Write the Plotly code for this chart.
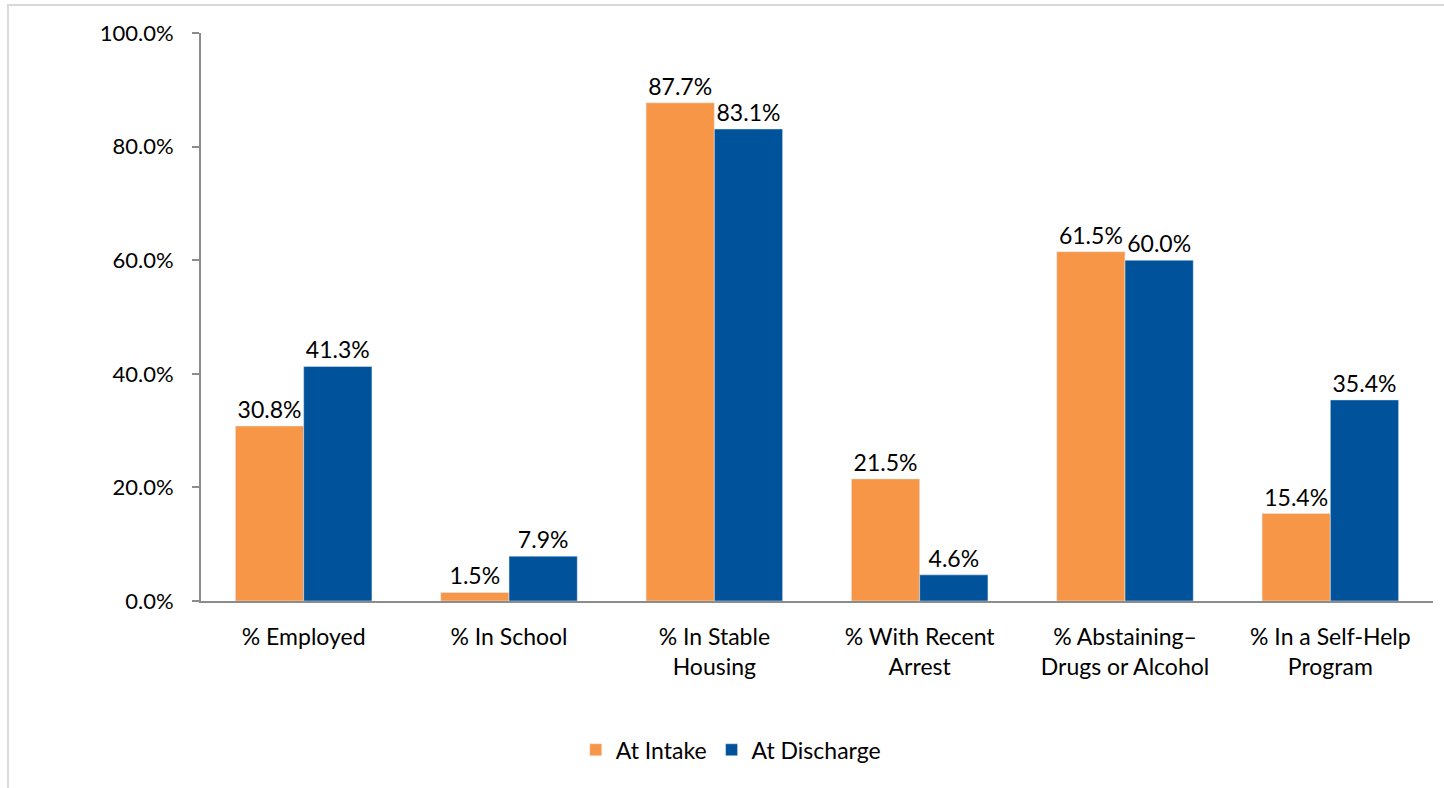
import plotly.graph_objects as go

categories = ["% Employed", "% In School", "% In Stable<br>Housing", "% With Recent<br>Arrest",
              "% Abstaining–<br>Drugs or Alcohol", "% In a Self-Help<br>Program"]
at_intake = [30.8, 1.5, 87.7, 21.5, 61.5, 15.4]
at_discharge = [41.3, 7.9, 83.1, 4.6, 60.0, 35.4]
y_ticks = [0, 20, 40, 60, 80, 100]
y_tick_labels = ["0.0%", "20.0%", "40.0%", "60.0%", "80.0%", "100.0%"]

FONT = "Lato"
FS = 23
fig = go.Figure()
fig.add_trace(go.Bar(
    name="At Intake", x=categories, y=at_intake, marker_color="#F79646",
    text=[f"{v:.1f}%" for v in at_intake], textposition="outside",
    textfont=dict(size=FS, color="#000000", family=FONT), cliponaxis=False,
))
fig.add_trace(go.Bar(
    name="At Discharge", x=categories, y=at_discharge, marker_color="#00529B",
    text=[f"{v:.1f}%" for v in at_discharge], textposition="outside",
    textfont=dict(size=FS, color="#000000", family=FONT), cliponaxis=False,
))

fig.update_layout(
    width=1444, height=788,
    margin=dict(l=201, r=11, t=33, b=187),
    paper_bgcolor="white", plot_bgcolor="white",
    barmode="group", bargap=0.335, bargroupgap=0,
    font=dict(family=FONT, size=FS, color="#000000"),
    showlegend=True,
    legend=dict(orientation="h", x=0.43, xanchor="center", y=-0.262, yanchor="middle",
                font=dict(size=FS, family=FONT), itemwidth=30, traceorder="normal"),
    uniformtext=dict(mode=False),
)
fig.update_xaxes(
    showline=True, linecolor="#8C8C8C", linewidth=2, showgrid=False, ticks="",
    tickfont=dict(size=FS, family=FONT), ticklabelstandoff=14, fixedrange=True,
)
fig.update_yaxes(
    range=[0, 100], tickvals=y_ticks, ticktext=y_tick_labels,
    showline=True, linecolor="#8C8C8C", linewidth=2, showgrid=False,
    ticks="outside", ticklen=7, tickcolor="#8C8C8C", tickwidth=2,
    tickfont=dict(size=22, family=FONT), ticklabelstandoff=14, zeroline=False,
)
# outer chart border
fig.add_shape(type="rect", xref="paper", yref="paper",
              x0=(8 - 201) / 1232, x1=(1450 - 201) / 1232,
              y0=(601 - 795) / 568, y1=(601 - 5) / 568,
              line=dict(color="#D9D9D9", width=2), fillcolor="rgba(0,0,0,0)", layer="below")

fig.write_html("out.html")
